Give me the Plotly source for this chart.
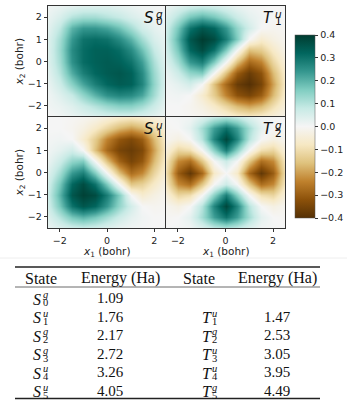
import plotly.graph_objects as go

W, H = 347, 413

# grid of the sampled points (bohr), same for x1 and x2
grid = [-2.5, -2.0, -1.5, -1.0, -0.5, 0.0, 0.5, 1.0, 1.5, 2.0, 2.5]

# values; each row is one x2 value, from x2 = 2.5 (top) down to x2 = -2.5
s0_g = [
    [0.01, 0.02, 0.03, 0.04, 0.04, 0.04, 0.03, 0.02, 0.01, 0.01, 0.00],
    [0.02, 0.05, 0.10, 0.12, 0.12, 0.10, 0.08, 0.05, 0.03, 0.01, 0.01],
    [0.03, 0.09, 0.20, 0.24, 0.24, 0.22, 0.18, 0.12, 0.06, 0.03, 0.01],
    [0.04, 0.12, 0.24, 0.30, 0.31, 0.30, 0.26, 0.20, 0.12, 0.05, 0.02],
    [0.04, 0.13, 0.26, 0.31, 0.33, 0.33, 0.31, 0.26, 0.18, 0.08, 0.02],
    [0.04, 0.12, 0.25, 0.31, 0.33, 0.34, 0.33, 0.30, 0.23, 0.11, 0.03],
    [0.03, 0.10, 0.21, 0.28, 0.32, 0.34, 0.35, 0.33, 0.26, 0.13, 0.04],
    [0.02, 0.07, 0.15, 0.22, 0.28, 0.32, 0.34, 0.33, 0.27, 0.14, 0.04],
    [0.01, 0.04, 0.08, 0.14, 0.20, 0.25, 0.27, 0.26, 0.22, 0.12, 0.03],
    [0.01, 0.02, 0.04, 0.07, 0.10, 0.13, 0.15, 0.15, 0.12, 0.07, 0.02],
    [0.00, 0.01, 0.02, 0.03, 0.04, 0.05, 0.05, 0.05, 0.04, 0.03, 0.01],
]

t1_u = [
    [0.02, 0.04, 0.06, 0.07, 0.06, 0.04, 0.02, 0.01, 0.005, 0.0, 0.0],
    [0.04, 0.10, 0.17, 0.20, 0.17, 0.12, 0.07, 0.03, 0.01, 0.0, 0.0],
    [0.06, 0.17, 0.30, 0.35, 0.32, 0.24, 0.14, 0.06, 0.0, -0.01, -0.005],
    [0.07, 0.20, 0.35, 0.40, 0.37, 0.28, 0.16, 0.0, -0.06, -0.03, -0.01],
    [0.06, 0.17, 0.32, 0.37, 0.30, 0.16, 0.0, -0.16, -0.14, -0.07, -0.02],
    [0.04, 0.12, 0.24, 0.28, 0.16, 0.0, -0.16, -0.28, -0.24, -0.12, -0.04],
    [0.02, 0.07, 0.14, 0.16, 0.0, -0.16, -0.30, -0.37, -0.32, -0.17, -0.06],
    [0.01, 0.03, 0.06, 0.0, -0.16, -0.28, -0.37, -0.40, -0.35, -0.20, -0.07],
    [0.005, 0.01, 0.0, -0.06, -0.14, -0.24, -0.32, -0.35, -0.30, -0.17, -0.06],
    [0.0, 0.0, -0.01, -0.03, -0.07, -0.12, -0.17, -0.20, -0.17, -0.10, -0.04],
    [0.0, 0.0, -0.005, -0.01, -0.02, -0.04, -0.06, -0.07, -0.06, -0.04, -0.02],
]

s1_u = [
    [0.0, 0.0, -0.005, -0.01, -0.02, -0.04, -0.06, -0.07, -0.06, -0.04, -0.02],
    [0.0, 0.0, -0.01, -0.03, -0.07, -0.12, -0.17, -0.20, -0.17, -0.10, -0.04],
    [0.005, 0.01, 0.0, -0.06, -0.14, -0.24, -0.31, -0.34, -0.30, -0.17, -0.06],
    [0.01, 0.03, 0.06, 0.0, -0.16, -0.28, -0.35, -0.37, -0.34, -0.20, -0.07],
    [0.02, 0.07, 0.14, 0.16, 0.0, -0.16, -0.29, -0.35, -0.31, -0.17, -0.06],
    [0.04, 0.12, 0.24, 0.28, 0.16, 0.0, -0.16, -0.27, -0.23, -0.12, -0.04],
    [0.06, 0.17, 0.32, 0.37, 0.30, 0.16, 0.0, -0.15, -0.13, -0.07, -0.02],
    [0.07, 0.20, 0.35, 0.39, 0.37, 0.28, 0.16, 0.0, -0.06, -0.03, -0.01],
    [0.06, 0.17, 0.30, 0.35, 0.32, 0.24, 0.14, 0.06, 0.0, -0.01, -0.005],
    [0.04, 0.10, 0.17, 0.20, 0.17, 0.12, 0.07, 0.03, 0.01, 0.0, 0.0],
    [0.02, 0.04, 0.06, 0.07, 0.06, 0.04, 0.02, 0.01, 0.005, 0.0, 0.0],
]

t2_g = [
    [0.0, 0.005, 0.01, 0.04, 0.08, 0.10, 0.08, 0.04, 0.01, 0.005, 0.0],
    [-0.005, 0.0, 0.03, 0.12, 0.23, 0.30, 0.23, 0.12, 0.03, 0.0, -0.005],
    [-0.01, -0.03, 0.0, 0.10, 0.27, 0.38, 0.27, 0.10, 0.0, -0.03, -0.01],
    [-0.04, -0.12, -0.10, 0.0, 0.15, 0.28, 0.15, 0.0, -0.10, -0.12, -0.04],
    [-0.08, -0.23, -0.27, -0.15, 0.0, 0.07, 0.0, -0.15, -0.27, -0.23, -0.08],
    [-0.10, -0.30, -0.38, -0.28, -0.07, 0.0, -0.07, -0.28, -0.38, -0.30, -0.10],
    [-0.08, -0.23, -0.27, -0.15, 0.0, 0.07, 0.0, -0.15, -0.27, -0.23, -0.08],
    [-0.04, -0.12, -0.10, 0.0, 0.15, 0.28, 0.15, 0.0, -0.10, -0.12, -0.04],
    [-0.01, -0.03, 0.0, 0.10, 0.27, 0.38, 0.27, 0.10, 0.0, -0.03, -0.01],
    [-0.005, 0.0, 0.03, 0.12, 0.23, 0.30, 0.23, 0.12, 0.03, 0.0, -0.005],
    [0.0, 0.005, 0.01, 0.04, 0.08, 0.10, 0.08, 0.04, 0.01, 0.005, 0.0],
]

# table
s_sup = ['g', 'u', 'g', 'g', 'u', 'u']
s_sub = ['0', '1', '2', '3', '4', '5']
s_energy = ['1.09', '1.76', '2.17', '2.72', '3.26', '4.05']
t_sup = ['u', 'g', 'u', 'u', 'g']
t_sub = ['1', '2', '3', '4', '5']
t_energy = ['1.47', '2.53', '3.05', '3.95', '4.49']


def fx(px):
    return px / W


def fy(py):
    return 1 - py / H


def note(px, py, text, font, **kw):
    d = dict(x=fx(px), y=fy(py), xref='paper', yref='paper', text=text,
             showarrow=False, font=font, xanchor='center', yanchor='middle',
             borderpad=0)
    d.update(kw)
    ann.append(d)


# panel boxes in pixels: (left, right, top, bottom)
panels = [
    (s0_g, 48, 166, 6, 117, 'S', 'g', '0'),
    (t1_u, 166, 285, 6, 117, 'T', 'u', '1'),
    (s1_u, 48, 166, 117, 228, 'S', 'u', '1'),
    (t2_g, 166, 285, 117, 228, 'T', 'g', '2'),
]

fig = go.Figure()
ann = []
axis_font = dict(family='DejaVu Sans', size=9.5, color='#222')
lab_font = dict(family='DejaVu Sans', size=15, color='#111')
script_font = dict(family='DejaVu Sans', size=10.5, color='#111')

for i, (z, l, r, t, b, letter, sup, sub) in enumerate(panels):
    n = '' if i == 0 else str(i + 1)
    fig.add_trace(go.Heatmap(
        z=z[::-1], x=grid, y=grid, coloraxis='coloraxis',
        zsmooth='best', hoverinfo='skip',
        xaxis='x' + n, yaxis='y' + n))
    left = i in (0, 2)
    bottom = i in (2, 3)
    fig.update_layout(**{
        'xaxis' + n: dict(
            domain=[fx(l), fx(r)], range=[-2.5, 2.5], anchor='y' + n,
            showline=True, mirror=True, linecolor='#333', linewidth=0.8,
            showgrid=False, zeroline=False,
            tickvals=[-2, 0, 2], ticks='outside' if bottom else '',
            ticklen=3.5, tickwidth=0.8, tickcolor='#333',
            showticklabels=bottom, tickfont=axis_font),
        'yaxis' + n: dict(
            domain=[fy(b), fy(t)], range=[-2.5, 2.5], anchor='x' + n,
            showline=True, mirror=True, linecolor='#333', linewidth=0.8,
            showgrid=False, zeroline=False,
            tickvals=[-2, -1, 0, 1, 2], ticks='outside' if left else '',
            ticklen=3.5, tickwidth=0.8, tickcolor='#333',
            showticklabels=left, tickfont=axis_font),
    })
    # state label in the top right corner
    note(r - 23, t + 12, '<i>%s</i>' % letter, lab_font, xanchor='left')
    note(r - 11.5, t + 8, '<i>%s</i>' % sup, script_font, xanchor='left')
    note(r - 11.5, t + 15.5, sub, script_font, xanchor='left')

# axis titles
title_font = dict(family='DejaVu Sans', size=10.5, color='#222')
for cx in (107, 226):
    note(cx, 252, '<i>x</i><sub>1</sub> (bohr)', title_font)
for cy in (61.5, 172.5):
    note(19, cy, '<i>x</i><sub>2</sub> (bohr)', title_font, textangle=-90)

# table
tab_font = dict(family='Liberation Serif', size=16, color='#111')
num_font = dict(family='Liberation Serif', size=15, color='#111')
tab_script = dict(family='Liberation Serif', size=10.5, color='#111')
row_y = [298, 316.5, 335, 353.5, 372, 390.5]
note(41, 278, 'State', tab_font)
note(120, 278, 'Energy (Ha)', tab_font)
note(199, 278, 'State', tab_font)
note(277, 278, 'Energy (Ha)', tab_font)


def state_label(x0, cy, letter, sup, sub):
    note(x0, cy + 1, '<i>%s</i>' % letter, tab_font, xanchor='left')
    note(x0 + 9.5, cy - 3.5, '<i>%s</i>' % sup, tab_script, xanchor='left')
    note(x0 + 9.5, cy + 4.5, sub, tab_script, xanchor='left')


for k in range(len(s_sup)):
    state_label(32, row_y[k], 'S', s_sup[k], s_sub[k])
    note(110, row_y[k], s_energy[k], num_font)
for k in range(len(t_sup)):
    state_label(201, row_y[k + 1], 'T', t_sup[k], t_sub[k])
    note(277, row_y[k + 1], t_energy[k], num_font)

shapes = [
    dict(type='line', xref='paper', yref='paper', x0=fx(15), x1=fx(320), y0=fy(267), y1=fy(267),
         line=dict(color='#222', width=1.3)),
    dict(type='line', xref='paper', yref='paper', x0=fx(15), x1=fx(320), y0=fy(287), y1=fy(287),
         line=dict(color='#444', width=0.8)),
    dict(type='line', xref='paper', yref='paper', x0=fx(15), x1=fx(320), y0=fy(398.5), y1=fy(398.5),
         line=dict(color='#222', width=1.3)),
    dict(type='line', xref='paper', yref='paper', x0=0, x1=1, y0=fy(258), y1=fy(258),
         line=dict(color='#eeeeee', width=1)),
]

fig.update_layout(
    width=W, height=H,
    margin=dict(l=0, r=0, t=0, b=0),
    paper_bgcolor='white', plot_bgcolor='white',
    showlegend=False,
    coloraxis=dict(
        colorscale='BrBG', cmin=-0.4, cmax=0.4,
        colorbar=dict(
            x=fx(295), xanchor='left', y=fy(126.5), yanchor='middle',
            len=183 / H, lenmode='fraction', thickness=20, thicknessmode='pixels',
            tickvals=[-0.4, -0.3, -0.2, -0.1, 0.0, 0.1, 0.2, 0.3, 0.4], tickformat='.1f',
            ticks='outside', ticklen=3.5, tickwidth=0.8, tickcolor='#333',
            tickfont=dict(family='DejaVu Sans', size=9.5, color='#222'),
            outlinewidth=0.5, outlinecolor='#555', xpad=0, ypad=0)),
    annotations=ann,
    shapes=shapes,
)

# drop the default page margin so the 347x413 figure fills the window
fig.write_html('out.html', config={'displayModeBar': False},
               post_script="document.body.style.margin='0';document.body.style.overflow='hidden';")
